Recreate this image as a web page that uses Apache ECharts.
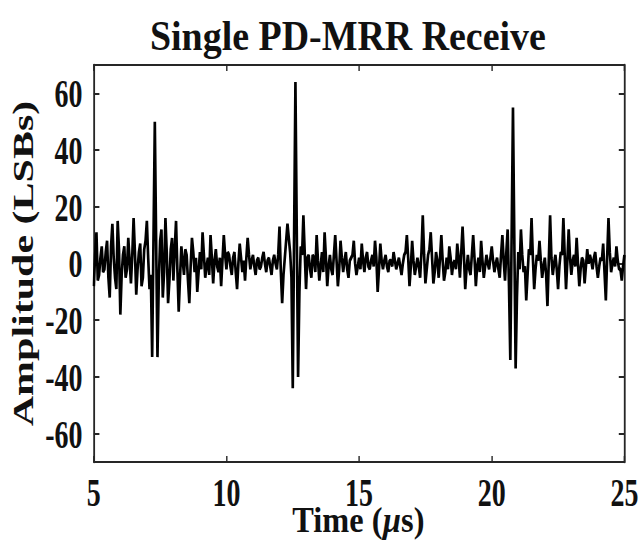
<!DOCTYPE html>
<html>
<head>
<meta charset="utf-8">
<script src="https://cdn.jsdelivr.net/npm/echarts@6/dist/echarts.min.js"></script>
<style>
  html, body { margin: 0; padding: 0; background: #fff; overflow: hidden; }
  #wrap { width: 641px; height: 540px; overflow: hidden; position: relative; }
  #chart { width: 916px; height: 540px; transform: scale(0.7, 1); transform-origin: 0 0; position: absolute; left: 0; top: 0; }
</style>
</head>
<body>
<div id="wrap"><div id="chart"></div></div>
<script>
// ---- data ----
const titleText = 'Single PD-MRR Receive';
const xNameRich = '{n|Time (}{i|µ}{n|s)}';   // Time (µs)
const yName = 'Amplitude (LSBs)';
const xMin = 5, xMax = 25, xStep = 5;
const yMin = -70, yMax = 70;
const yTicks = [-60, -40, -20, 0, 20, 40, 60];
const sampleStart = 5;      // µs
const sampleStep = 0.05;    // µs
const amplitude = [
  -8, 3, 11, -6, -4, 2, 6, -3, -2, 4, 8, -5, -12, 6, 14, 2, -5, -9, 15, 5,
  -18, -4, 3, 6, -5, -2, 9, 1, -7, 3, 16, 4, -11, -2, 4, 7, -8, -5, 5, 8,
  15, 2, -9, -4, -33, 9, 50, 8, -33, -6, 8, 12, -12, -3, 16, 4, -14, -6, 5, 9,
  -6, 5, 15, -2, -17, -5, 6, 1, -4, 5, 3, -6, -14, -1, 9, 4, -3, 2, -10, -3,
  4, -2, 11, 3, -5, -1, 2, -4, 10, 2, -7, 1, 5, -1, -3, 2, -8, 1, 10, 3,
  -2, 4, 3, -1, -4, 2, 4, -3, -9, 0, 7, 2, -3, 1, -6, 2, 9, 3, -2, 1,
  3, -1, -4, 1, 2, -2, -1, 2, 4, 0, -3, 1, 2, -1, -4, 1, 3, 0, -2, 3,
  13, -3, -14, -4, 2, 8, 14, 9, 4, -5, -44, 10, 64, 12, -40, -10, 6, 3, 17, 4,
  -9, 2, 3, -2, -5, 3, 2, -3, 10, 1, -6, -1, 4, -3, 11, 2, -8, -1, 3, -2,
  -4, 3, 10, 1, -8, -2, 8, 2, -3, 1, 4, -2, -5, 1, 2, 3, 8, 0, -4, -1,
  2, -2, 7, 1, -3, 2, 4, -1, -2, 1, 3, -1, 8, 2, -10, -2, 7, 1, -2, 1,
  3, -1, -3, 1, 1, -1, 4, 1, -2, 0, 2, -1, -4, 0, 3, 4, 10, 2, -8, -1,
  8, 1, -4, -1, 2, -1, -5, 4, 17, 3, -7, -2, 3, 5, 11, 2, -7, -3, 4, 1,
  -5, 2, 10, 1, -6, -3, 2, -2, 6, 2, -4, 0, 1, -2, 7, 2, -5, 4, 13, 3,
  -9, -2, 3, -2, -4, 3, 10, 2, -8, -1, 2, -3, 8, 1, -5, -1, 3, 0, -2, 2,
  6, 1, -3, 0, 2, -2, -5, 3, 10, 1, -6, 4, 12, -8, -34, 10, 55, 9, -37, -12,
  4, -2, 12, 3, -3, -1, -13, -4, 5, 3, 16, 2, -9, -2, 3, 1, 8, 1, -5, -1,
  2, -4, -15, 1, 17, 2, -4, 0, 3, -2, -9, -1, 4, 3, 16, 3, -9, 1, 12, 2,
  -4, 1, 3, -1, 9, 0, -8, -2, 2, 1, -7, -1, 5, 0, 3, 1, -2, 2, 4, -1,
  -5, -1, 2, 1, 7, -3, -13, 2, 16, 4, -3, 0, 2, -1, 6, 1, -2, -2, -6, -1,
  3
];

// ---- build ----
const seriesData = amplitude.map((v, i) => [+(sampleStart + i * sampleStep).toFixed(3), v]);
const serif = "'Liberation Serif', 'Times New Roman', serif";
const axisColor = '#262626';

const chart = echarts.init(document.getElementById('chart'), null, { renderer: 'svg' });
chart.setOption({
  backgroundColor: '#ffffff',
  animation: false,
  graphic: [{
    type: 'text',
    x: 497, y: 15,
    scaleX: 1.29,
    style: {
      text: titleText,
      textAlign: 'center', textVerticalAlign: 'top',
      fontFamily: serif, fontWeight: 'bold', fontSize: 42, fill: '#111'
    }
  }, {
    type: 'text',
    x: 512, y: 503,
    scaleX: 1.32,
    style: {
      text: xNameRich,
      textAlign: 'center', textVerticalAlign: 'top',
      fontFamily: serif, fontWeight: 'bold', fontSize: 35, fill: '#111',
      rich: {
        n: { fontFamily: serif, fontWeight: 'bold', fontSize: 35, fill: '#111' },
        i: { fontFamily: serif, fontWeight: 'bold', fontStyle: 'italic', fontSize: 35, fill: '#111' }
      }
    }
  }],
  grid: { left: 134, right: 24, top: 65, bottom: 78, containLabel: false, outerBoundsMode: 'none' },
  xAxis: [{
    type: 'value', min: xMin, max: xMax, interval: xStep,
    axisLine: { show: true, onZero: false, lineStyle: { color: axisColor, width: 2 } },
    axisTick: { show: true, inside: true, length: 6, lineStyle: { color: axisColor, width: 2 } },
    axisLabel: { fontFamily: serif, fontWeight: 'bold', fontSize: 40, color: '#111', margin: 10 },
    splitLine: { show: false }
  }, {
    type: 'value', position: 'top', min: xMin, max: xMax, interval: xStep,
    axisLine: { show: true, onZero: false, lineStyle: { color: axisColor, width: 2 } },
    axisTick: { show: true, inside: true, length: 6, lineStyle: { color: axisColor, width: 2 } },
    axisLabel: { show: false },
    splitLine: { show: false }
  }],
  yAxis: [{
    type: 'value', min: yMin, max: yMax,
    name: yName,
    nameLocation: 'middle', nameGap: 80, nameMoveOverlap: false,
    nameTextStyle: { fontFamily: serif, fontWeight: 'bold', fontSize: 42, color: '#111' },
    axisLine: { show: true, onZero: false, lineStyle: { color: axisColor, width: 2.6 } },
    axisTick: { show: true, inside: true, length: 8, customValues: yTicks, lineStyle: { color: axisColor, width: 2 } },
    axisLabel: { fontFamily: serif, fontWeight: 'bold', fontSize: 40, color: '#111', margin: 16, customValues: yTicks },
    splitLine: { show: false }
  }, {
    type: 'value', position: 'right', min: yMin, max: yMax,
    axisLine: { show: true, onZero: false, lineStyle: { color: axisColor, width: 2.6 } },
    axisTick: { show: true, inside: true, length: 8, customValues: yTicks, lineStyle: { color: axisColor, width: 2 } },
    axisLabel: { show: false, customValues: yTicks },
    splitLine: { show: false }
  }],
  series: [{
    type: 'line',
    xAxisIndex: 0, yAxisIndex: 0,
    data: seriesData,
    showSymbol: false,
    lineStyle: { color: '#000', width: 3.8 },
    z: 5
  }]
});
</script>
</body>
</html>
